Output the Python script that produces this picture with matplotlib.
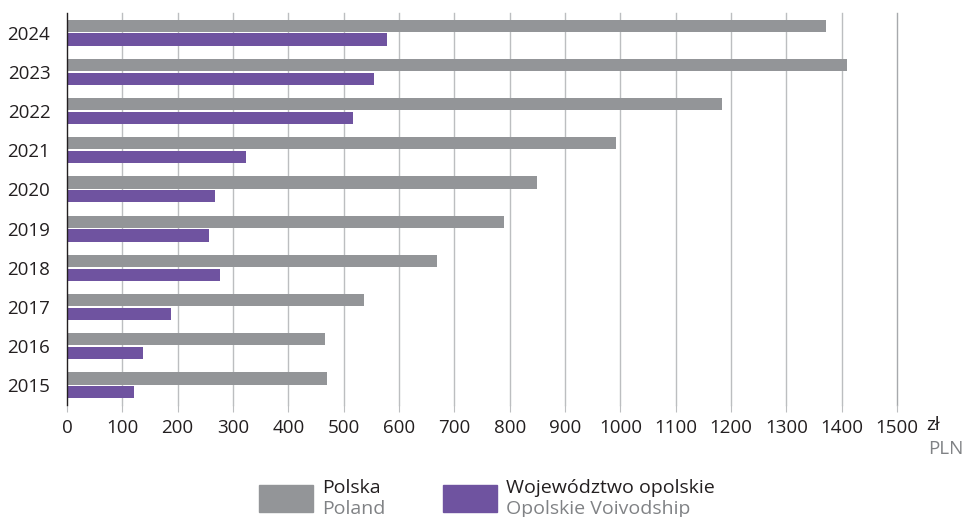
import numpy as np
import matplotlib.pyplot as plt
from matplotlib.patches import Rectangle

plt.rcParams['font.family'] = ['Open Sans', 'DejaVu Sans']

years = ['2015', '2016', '2017', '2018', '2019', '2020', '2021', '2022', '2023', '2024']
poland = [469, 466, 536, 668, 789, 849, 992, 1183, 1410, 1371]
opolskie = [121, 138, 188, 277, 257, 267, 324, 516, 555, 578]
x_ticks = list(range(0, 1600, 100))

GRAY = '#939598'
PURPLE = '#6f53a0'
TEXT = '#231f20'
SUB = '#808285'
FS = 13.5

fig = plt.figure(figsize=(9.65, 5.17), dpi=100)
ax = fig.add_axes([67 / 965, (517 - 405) / 517, 830 / 965, 392 / 517])

y = np.arange(len(years))
h = 0.31
ax.barh(y + h / 2 + 0.02, poland, height=h, color=GRAY, zorder=3)
ax.barh(y - h / 2 - 0.02, opolskie, height=h, color=PURPLE, zorder=3)

ax.set_xlim(0, 1500)
ax.set_ylim(-0.5, len(years) - 0.5)
ax.set_xticks(x_ticks)
ax.set_xticklabels([str(v) for v in x_ticks], fontsize=FS, color=TEXT)
ax.set_yticks(y)
ax.set_yticklabels(years, fontsize=FS, color=TEXT)
ax.tick_params(axis='x', length=5, width=0.8, color='#bcbec0', pad=5)
ax.tick_params(axis='y', length=0, pad=12)

for v in x_ticks[1:]:
    ax.axvline(v, color='#bcbec0' if v < 1500 else '#a7a9ac', lw=1.0, zorder=1, clip_on=False)

for side in ['top', 'right', 'bottom']:
    ax.spines[side].set_visible(False)
ax.spines['left'].set_color('#231f20')
ax.spines['left'].set_linewidth(1.0)
ax.spines['left'].set_zorder(4)

# unit label after the last tick
fig.text(926 / 965, 1 - 425 / 517, 'zł', fontsize=FS, color=TEXT, va='center', ha='left')
fig.text(964 / 965, 1 - 449 / 517, 'PLN', fontsize=FS, color=SUB, va='center', ha='right')

# legend
legend_items = [
    (259, GRAY, 'Polska', 'Poland'),
    (443, PURPLE, 'Województwo opolskie', 'Opolskie Voivodship'),
]
for x0, col, pl, en in legend_items:
    fig.patches.append(Rectangle((x0 / 965, 1 - 512 / 517), 54 / 965, 27 / 517,
                                 transform=fig.transFigure, color=col))
    fig.text((x0 + 63) / 965, 1 - 488 / 517, pl, fontsize=14, color=TEXT, va='center', ha='left')
    fig.text((x0 + 63) / 965, 1 - 509 / 517, en, fontsize=14, color=SUB, va='center', ha='left')

fig.savefig('out.png', dpi=100)
